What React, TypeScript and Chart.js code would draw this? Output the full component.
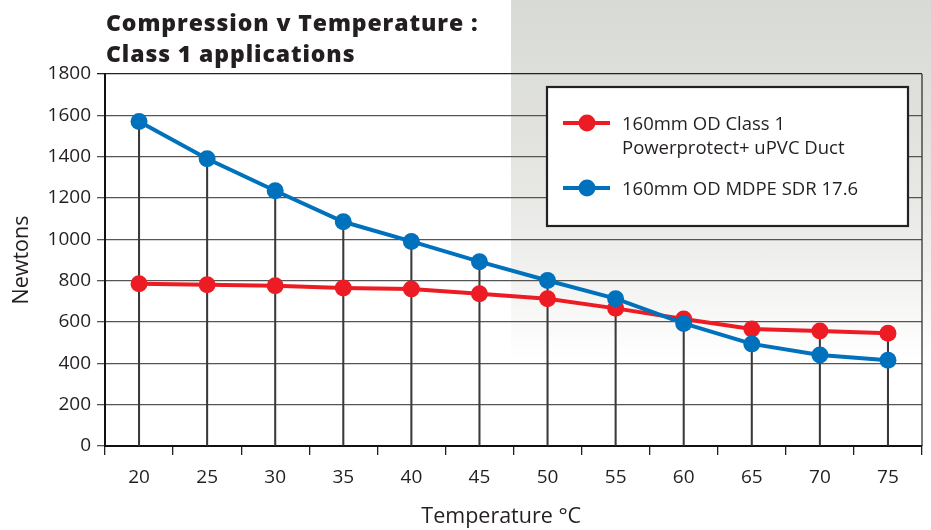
import React, { useEffect, useRef } from "react";
import { Chart, registerables } from "chart.js";

Chart.register(...registerables);

const categories = ["20", "25", "30", "35", "40", "45", "50", "55", "60", "65", "70", "75"];
const ductValues = [785, 780, 775, 765, 760, 737, 713, 666, 615, 566, 556, 546];
const mdpeValues = [1570, 1390, 1235, 1085, 990, 892, 801, 713, 593, 494, 440, 415];
const yTicks = [0, 200, 400, 600, 800, 1000, 1200, 1400, 1600, 1800];
const titleLines = ["Compression v Temperature :", "Class 1 applications"];
const xTitle = "Temperature °C";
const yTitle = "Newtons";
const legendItems = [
  { lines: ["160mm OD Class 1", "Powerprotect+ uPVC Duct"], color: "#ed1c24" },
  { lines: ["160mm OD MDPE SDR 17.6"], color: "#0071bc" },
];

const RED = "#ed1c24";
const BLUE = "#0071bc";
const TEXT = "#231f20";
const FONT = "'Open Sans', 'Noto Sans', sans-serif";

const dropValues = categories.map((_, i) => Math.max(ductValues[i], mdpeValues[i]));

const decorPlugin = {
  id: "decor",
  beforeDatasetsDraw(chart: any) {
    const { ctx, chartArea } = chart;
    ctx.save();
    ctx.strokeStyle = "#333";
    ctx.lineWidth = 1.3;
    ctx.beginPath();
    ctx.moveTo(chartArea.right, chartArea.top);
    ctx.lineTo(chartArea.right, chartArea.bottom);
    ctx.stroke();
    ctx.restore();
  },
  afterDraw(chart: any) {
    const { ctx, chartArea } = chart;
    ctx.save();
    // title
    ctx.fillStyle = TEXT;
    ctx.font = `800 23px ${FONT}`;
    try {
      (ctx as any).letterSpacing = "0.9px";
    } catch (e) {}
    ctx.textBaseline = "alphabetic";
    ctx.textAlign = "left";
    ctx.fillText(titleLines[0], chartArea.left + 1, 31);
    ctx.fillText(titleLines[1], chartArea.left + 1, 62);
    try {
      (ctx as any).letterSpacing = "0px";
    } catch (e) {}

    // x axis title
    ctx.font = `21.5px ${FONT}`;
    ctx.textAlign = "center";
    ctx.textBaseline = "middle";
    ctx.fillText(xTitle, chartArea.left + (chartArea.right - chartArea.left) * 0.485, 517);
    ctx.textAlign = "left";

    // legend box
    const bx = chartArea.right - 375;
    const by = chartArea.top + 13;
    const bw = 361;
    const bh = 139;
    ctx.fillStyle = "#ffffff";
    ctx.fillRect(bx, by, bw, bh);
    ctx.strokeStyle = "#222";
    ctx.lineWidth = 2.2;
    ctx.strokeRect(bx, by, bw, bh);

    ctx.font = `18.5px ${FONT}`;
    ctx.textBaseline = "middle";
    const rowY = [by + 36, by + 101];
    legendItems.forEach((item, i) => {
      const y = rowY[i];
      ctx.strokeStyle = item.color;
      ctx.lineWidth = 4;
      ctx.beginPath();
      ctx.moveTo(bx + 16, y);
      ctx.lineTo(bx + 63, y);
      ctx.stroke();
      ctx.fillStyle = item.color;
      ctx.beginPath();
      ctx.arc(bx + 40, y, 8.5, 0, Math.PI * 2);
      ctx.fill();
      ctx.fillStyle = TEXT;
      item.lines.forEach((t, j) => {
        ctx.fillText(t, bx + 75, y + 2 + j * 24);
      });
    });
    ctx.restore();
  },
};

export default function App() {
  const ref = useRef<HTMLCanvasElement | null>(null);

  useEffect(() => {
    document.body.style.margin = "0";
    const canvas = ref.current;
    if (!canvas) return;
    const chart = new Chart(canvas, {
      type: "line",
      data: {
        labels: categories,
        datasets: [
          {
            type: "line",
            label: legendItems[0].lines.join(" "),
            data: ductValues,
            borderColor: RED,
            backgroundColor: RED,
            borderWidth: 4,
            pointRadius: 8.5,
            pointBorderWidth: 0,
            pointBackgroundColor: RED,
            order: 2,
          },
          {
            type: "line",
            label: legendItems[1].lines.join(" "),
            data: mdpeValues,
            borderColor: BLUE,
            backgroundColor: BLUE,
            borderWidth: 4,
            pointRadius: 8.5,
            pointBorderWidth: 0,
            pointBackgroundColor: BLUE,
            order: 1,
          },
          {
            type: "bar",
            label: "drop",
            data: dropValues,
            backgroundColor: "#3a3a3a",
            barThickness: 1.4,
            order: 5,
          } as any,
        ],
      },
      options: {
        responsive: false,
        animation: false,
        events: [],
        layout: { padding: { top: 74, right: 9, left: 0, bottom: 0 } },
        plugins: {
          legend: { display: false },
          title: { display: false },
          tooltip: { enabled: false },
        },
        scales: {
          x: {
            type: "category",
            offset: true,
            grid: {
              offset: true,
              drawOnChartArea: false,
              tickLength: 9,
              color: "#222",
              lineWidth: 1.3,
            },
            border: { color: "#111", width: 2 },
            ticks: {
              color: TEXT,
              font: { family: FONT, size: 19 },
              padding: 11,
              maxRotation: 0,
            },
            title: { display: false },
            afterFit(scale: any) {
              scale.height = 84;
            },
          },
          y: {
            min: 0,
            max: 1800,
            afterBuildTicks(scale: any) {
              scale.ticks = yTicks.map((v) => ({ value: v }));
            },
            grid: {
              color: (c: any) => (c.tick && c.tick.value === 1800 ? "#222" : "#555"),
              lineWidth: 1.3,
              tickLength: 8,
            },
            border: { color: "#111", width: 2 },
            ticks: {
              color: TEXT,
              font: { family: FONT, size: 19 },
              padding: 6,
              callback: (v: any) => String(v),
            },
            title: {
              display: true,
              text: yTitle,
              color: TEXT,
              font: { family: FONT, size: 21.5 },
              padding: { top: 9, bottom: 0 },
            },
            afterFit(scale: any) {
              scale.width = 105;
            },
          },
        },
      },
      plugins: [decorPlugin],
    } as any);
    return () => chart.destroy();
  }, []);

  return (
    <div style={{ position: "relative", width: 931, height: 530, background: "#ffffff", overflow: "hidden" }}>
      <div
        style={{
          position: "absolute",
          left: 511,
          top: 0,
          width: 420,
          height: 360,
          background: "linear-gradient(to bottom, #d8dad5 0%, #e2e3df 40%, #eeeeec 70%, #ffffff 100%)",
        }}
      />
      <canvas ref={ref} width={931} height={530} style={{ position: "absolute", left: 0, top: 0 }} />
    </div>
  );
}
